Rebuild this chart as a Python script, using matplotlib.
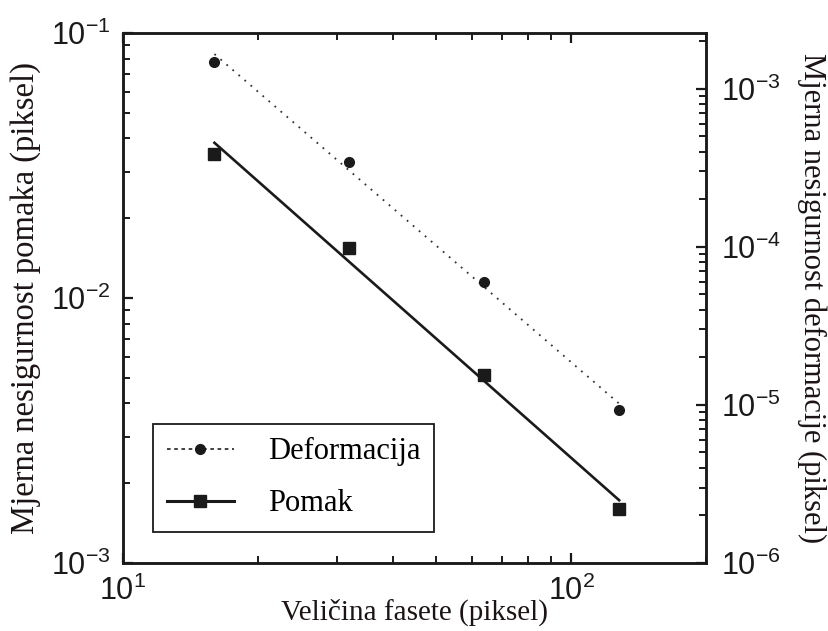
import numpy as np
import matplotlib
matplotlib.use('Agg')
import matplotlib.pyplot as plt
from matplotlib.lines import Line2D
from matplotlib.ticker import LogLocator, NullFormatter

# Data
velicina = [16, 32, 64, 128]                      # facet size (pixel)
pomak = [0.0349, 0.01545, 0.00512, 0.0016]        # displacement uncertainty (left axis)
deformacija = [1.48e-3, 3.46e-4, 5.97e-5, 9.29e-6]  # strain uncertainty (right axis)

x_label = 'Veličina fasete (piksel)'
yl_label = 'Mjerna nesigurnost pomaka (piksel)'
yr_label = 'Mjerna nesigurnost deformacije (piksel)'
legend_labels = ['Deformacija', 'Pomak']

plt.rcParams['font.family'] = ['Liberation Sans', 'DejaVu Sans']
plt.rcParams['mathtext.fontset'] = 'custom'
plt.rcParams['mathtext.rm'] = 'Liberation Sans'
plt.rcParams['mathtext.it'] = 'Liberation Sans:italic'
plt.rcParams['mathtext.bf'] = 'Liberation Sans:bold'

serif = ['Liberation Serif', 'DejaVu Serif']
ink = '#1a1a1a'
label_col = '#1c1414'

fig = plt.figure(figsize=(8.29, 6.31), dpi=100)
ax = fig.add_axes([123/829, 68/631, 583/829, 530/631])
ax2 = ax.twinx()

ax.set_xscale('log')
ax.set_yscale('log')
ax2.set_yscale('log')
ax.set_xlim(10, 200)
ax.set_ylim(1e-3, 1e-1)
ax2.set_ylim(1e-6, 2.25e-3)

# least-squares power-law fits drawn across the data range
lx = np.log10(velicina)
xf = np.array([velicina[0], velicina[-1]], dtype=float)
p_fit = np.polyfit(lx, np.log10(pomak), 1)
d_fit = np.polyfit(lx, np.log10(deformacija), 1)

ax.plot(xf, 10 ** np.polyval(p_fit, np.log10(xf)), color=ink, lw=1.9, zorder=3)
ax.plot(velicina, pomak, ls='none', marker='s', ms=9, color=ink, zorder=4)

dot_style = (0, (1, 3.4))
ax2.plot(xf, 10 ** np.polyval(d_fit, np.log10(xf)), color='#333333', lw=1.3,
         ls=dot_style, zorder=3)
ax2.plot(velicina, deformacija, ls='none', marker='o', ms=7, color=ink, zorder=4)

# ticks
for a in (ax, ax2):
    for s in a.spines.values():
        s.set_linewidth(1.8)
        s.set_color(ink)

ax.xaxis.set_major_locator(LogLocator(base=10))
ax.xaxis.set_minor_locator(LogLocator(base=10, subs=np.arange(2, 10)))
ax.xaxis.set_minor_formatter(NullFormatter())
ax.yaxis.set_minor_formatter(NullFormatter())
ax2.yaxis.set_minor_locator(LogLocator(base=10, subs=np.arange(2, 10), numticks=20))
ax2.yaxis.set_minor_formatter(NullFormatter())

ax.tick_params(which='both', direction='in', top=True, right=False, colors=ink,
               labelsize=22)
ax.tick_params(which='major', length=7.5, width=1.6, pad=9)
ax.tick_params(which='minor', length=5, width=1.4)
ax2.tick_params(which='both', direction='in', right=True, left=False, top=False,
                bottom=False, colors=ink, labelsize=22)
ax2.tick_params(which='major', length=7.5, width=1.6, pad=11)
ax2.tick_params(which='minor', length=5, width=1.4)

# labels
ax.set_xlabel(x_label, family=serif, fontsize=21, color=label_col,
              va='center', ha='center')
ax.xaxis.set_label_coords(0.5, (563 - 612) / 530)
ax.set_ylabel(yl_label, family=serif, fontsize=23.5, color=label_col,
              va='center', ha='center', rotation=90, rotation_mode='default')
ax.yaxis.set_label_coords((26 - 123) / 583, 0.5)
ax2.set_ylabel(yr_label, family=serif, fontsize=22, color=label_col,
               va='center', ha='center', rotation=270, rotation_mode='default')
ax2.yaxis.set_label_coords((812 - 123) / 583, 0.5)

# legend
handles = [
    Line2D([], [], color='#333333', lw=1.3, ls=(0, (2, 2)), marker='o', ms=7,
           mfc=ink, mec=ink),
    Line2D([], [], color=ink, lw=2.2, marker='s', ms=9, mfc=ink, mec=ink),
]
leg = ax2.legend(handles, legend_labels, loc='lower left',
                 bbox_to_anchor=((153 - 123) / 583, (563 - 532) / 530),
                 borderaxespad=0, frameon=True, fancybox=False, framealpha=1,
                 edgecolor=ink, prop={'family': serif, 'size': 22},
                 handlelength=2.2, handletextpad=1.1, labelspacing=0.75,
                 borderpad=0.45)
leg.get_frame().set_linewidth(1.3)

fig.savefig('out.png', dpi=100)
